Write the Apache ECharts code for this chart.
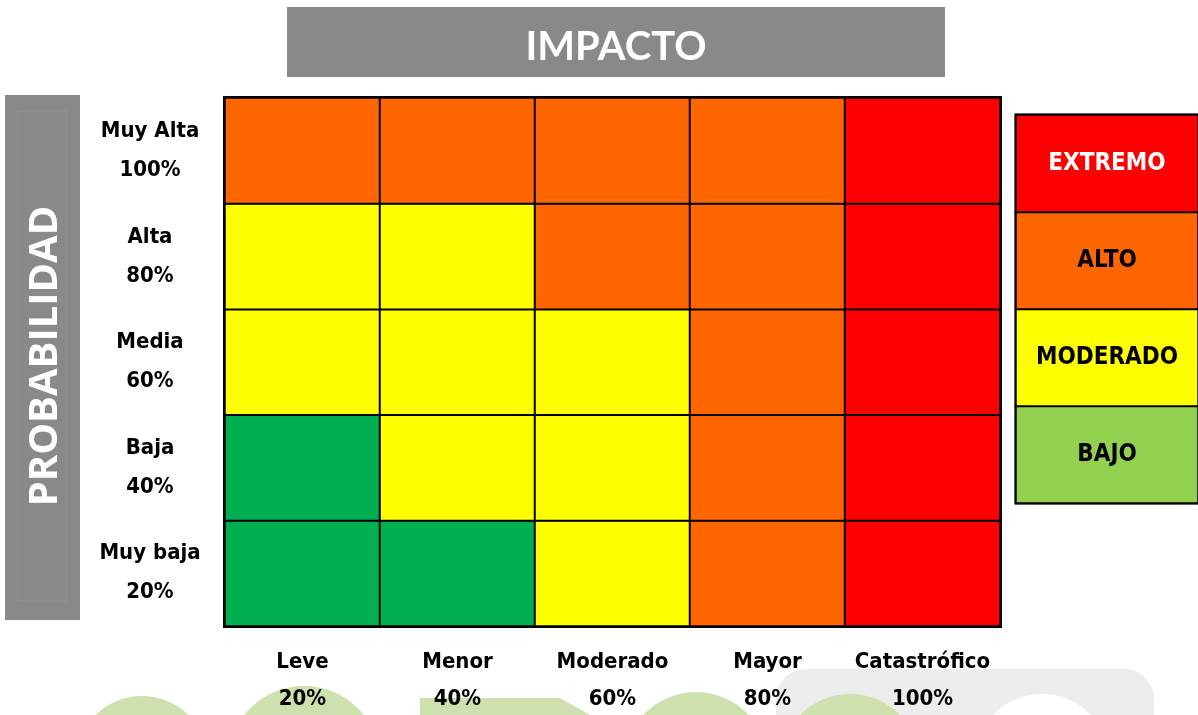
<!DOCTYPE html>
<html>
<head>
<meta charset="utf-8">
<script src="https://cdn.jsdelivr.net/npm/echarts@6/dist/echarts.min.js"></script>
<style>
  html, body { margin: 0; padding: 0; background: #fff; }
  #main { width: 1198px; height: 715px; }
</style>
</head>
<body>
<div id="main"></div>
<script>
// ejes de la matriz de riesgo
var impacto = ['Leve\n20%', 'Menor\n40%', 'Moderado\n60%', 'Mayor\n80%', 'Catastrófico\n100%'];
var probabilidad = ['Muy baja\n20%', 'Baja\n40%', 'Media\n60%', 'Alta\n80%', 'Muy Alta\n100%'];
var niveles = ['BAJO', 'MODERADO', 'ALTO', 'EXTREMO'];

// nivel de riesgo por fila (de Muy baja a Muy Alta), columnas Leve -> Catastrófico
var filaMuyBaja = [0, 0, 1, 2, 3];
var filaBaja = [0, 1, 1, 2, 3];
var filaMedia = [1, 1, 1, 2, 3];
var filaAlta = [1, 1, 2, 2, 3];
var filaMuyAlta = [2, 2, 2, 2, 3];

var coloresMatriz = ['#00B050', '#FFFF00', '#FF6600', '#FF0000'];
var coloresLeyenda = ['#92D050', '#FFFF00', '#FF6600', '#FF0000'];

var filas = [filaMuyBaja, filaBaja, filaMedia, filaAlta, filaMuyAlta];
var datosMatriz = [];
filas.forEach(function (fila, y) {
  fila.forEach(function (nivel, x) {
    datosMatriz.push({ value: [x, y, nivel], itemStyle: { color: coloresMatriz[nivel] } });
  });
});

var datosLeyenda = niveles.map(function (n, i) {
  return {
    value: [0, i, i],
    itemStyle: { color: coloresLeyenda[i] },
    label: { color: i === 3 ? '#fff' : '#000' }
  };
});

var fuente = '"Liberation Sans Narrow", "DejaVu Sans Condensed", Arial, sans-serif';
var verdeMarca = '#cde0ad';

var myChart = echarts.init(document.getElementById('main'));
myChart.setOption({
  backgroundColor: '#fff',
  animation: false,
  grid: [
    { left: 225, top: 98, width: 775, height: 528, outerBoundsMode: 'none', containLabel: false,
      show: true, borderColor: '#000', borderWidth: 4, backgroundColor: 'transparent' },
    { left: 1016, top: 115, width: 182, height: 388, outerBoundsMode: 'none', containLabel: false,
      show: true, borderColor: '#000', borderWidth: 3, backgroundColor: 'transparent' }
  ],
  xAxis: [
    {
      type: 'category', gridIndex: 0, data: impacto,
      axisLine: { show: false }, axisTick: { show: false }, splitLine: { show: false },
      axisLabel: { interval: 0, margin: 18, fontFamily: fuente, fontWeight: 'bold', fontSize: 22, lineHeight: 37, color: '#000' }
    },
    { type: 'category', gridIndex: 1, data: ['nivel'], show: false }
  ],
  yAxis: [
    {
      type: 'category', gridIndex: 0, data: probabilidad,
      axisLine: { show: false }, axisTick: { show: false }, splitLine: { show: false },
      axisLabel: { interval: 0, margin: 75, align: 'center', fontFamily: fuente, fontWeight: 'bold', fontSize: 22, lineHeight: 39, color: '#000' }
    },
    { type: 'category', gridIndex: 1, data: niveles, show: false }
  ],
  graphic: [
    // marca de agua al pie
    { type: 'rect', z: -10, shape: { x: 776, y: 669, width: 378, height: 120, r: 30 }, style: { fill: '#ededed' } },
    { type: 'circle', z: -9, shape: { cx: 1042, cy: 762, r: 68 }, style: { fill: '#fff' } },
    { type: 'circle', z: -10, shape: { cx: 142, cy: 762, r: 66 }, style: { fill: verdeMarca } },
    { type: 'circle', z: -10, shape: { cx: 304, cy: 762, r: 76 }, style: { fill: verdeMarca } },
    { type: 'polygon', z: -10, shape: { points: [[420, 715], [420, 698], [560, 698], [590, 715]] }, style: { fill: verdeMarca } },
    { type: 'circle', z: -10, shape: { cx: 696, cy: 764, r: 72 }, style: { fill: verdeMarca } },
    { type: 'circle', z: -10, shape: { cx: 850, cy: 764, r: 70 }, style: { fill: verdeMarca } },
    // título superior
    {
      type: 'rect', shape: { x: 287, y: 7, width: 658, height: 70 }, style: { fill: '#898989' }
    },
    {
      type: 'text', x: 616, y: 47,
      style: { text: 'IMPACTO', fill: '#fff', font: 'bold 40px Lato, "Open Sans", sans-serif', textAlign: 'center', textVerticalAlign: 'middle' }
    },
    // título lateral
    {
      type: 'rect', shape: { x: 5, y: 95, width: 75, height: 525 }, style: { fill: '#898989' }
    },
    {
      type: 'rect', shape: { x: 17, y: 111, width: 50, height: 490 }, style: { fill: 'none', stroke: '#939393', lineWidth: 1 }
    },
    {
      type: 'text', x: 46, y: 356, rotation: Math.PI / 2,
      style: { text: 'PROBABILIDAD', fill: '#fff', font: 'bold 40px "Open Sans", Lato, sans-serif', textAlign: 'center', textVerticalAlign: 'middle' }
    }
  ],
  series: [
    {
      type: 'heatmap', xAxisIndex: 0, yAxisIndex: 0, data: datosMatriz,
      itemStyle: { borderColor: '#000', borderWidth: 2 },
      label: { show: false },
      emphasis: { disabled: true }
    },
    {
      type: 'heatmap', xAxisIndex: 1, yAxisIndex: 1, data: datosLeyenda,
      itemStyle: { borderColor: '#000', borderWidth: 2 },
      label: {
        show: true, fontFamily: fuente, fontWeight: 'bold', fontSize: 24,
        formatter: function (p) { return niveles[p.value[2]]; }
      },
      emphasis: { disabled: true }
    }
  ]
});
</script>
</body>
</html>
